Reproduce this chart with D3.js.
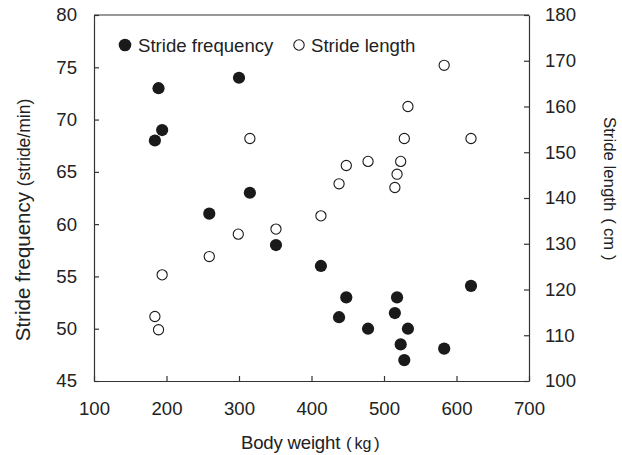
<!DOCTYPE html>
<html><head><meta charset="utf-8">
<script src="https://cdn.jsdelivr.net/npm/d3@7"></script>
<style>body{margin:0;background:#fff}svg{display:block}text{font-family:"Liberation Sans",Arial,sans-serif;fill:#222}</style>
</head><body>
<script>
const bodyWeight = [189,300,194,184,315,259,351,413,448,438,478,518,515,533,523,528,583,620];
const strideFrequency = [73,74,69,68,63,61,58,56,53,51.1,50,53,51.5,50,48.5,47,48.1,54.1];
const strideLengthWeight = [315,413,583,533,528,620,478,448,523,518,438,515,351,299,259,194,184,189];
const strideLength = [153,136.1,169,160,153,153,148,147.1,148,145.2,143.1,142.3,133.2,132.1,127.2,123.2,114.1,111.2];
const xTicks = [100,200,300,400,500,600,700];
const yLeftTicks = [45,50,55,60,65,70,75,80];
const yRightTicks = [100,110,120,130,140,150,160,170,180];

const W=622,H=455;
const m={l:94,r:529,t:15,b:381};
const svg=d3.select("body").append("svg").attr("width",W).attr("height",H);
const x=d3.scaleLinear().domain([100,700]).range([m.l,m.r]);
const yL=d3.scaleLinear().domain([45,80]).range([m.b,m.t]);
const yR=d3.scaleLinear().domain([100,180]).range([m.b,m.t]);
const fs=18.6;

const ax=svg.append("g").attr("transform",`translate(0,${m.b})`)
  .call(d3.axisBottom(x).tickValues(xTicks).tickSizeInner(-5).tickSizeOuter(0).tickPadding(21));
const al=svg.append("g").attr("transform",`translate(${m.l},0)`)
  .call(d3.axisLeft(yL).tickValues(yLeftTicks).tickSizeInner(-5).tickSizeOuter(0).tickPadding(17));
const ar=svg.append("g").attr("transform",`translate(${m.r},0)`)
  .call(d3.axisRight(yR).tickValues(yRightTicks).tickSizeInner(-5).tickSizeOuter(0).tickPadding(16));
[ax,al,ar].forEach(g=>{
  g.selectAll("path").attr("stroke","#333").attr("stroke-width",1.2);
  g.selectAll("line").attr("stroke","#333").attr("stroke-width",1.2);
  g.selectAll("text").attr("font-size",fs).attr("font-family","Liberation Sans, Arial, sans-serif").attr("fill","#222");
});
ax.selectAll("text").attr("dy","0.71em");
svg.append("line").attr("x1",m.l).attr("x2",m.r).attr("y1",m.t).attr("y2",m.t).attr("stroke","#333").attr("stroke-width",1.2);

// points
svg.append("g").selectAll("circle").data(strideLength).join("circle")
  .attr("cx",(d,i)=>x(strideLengthWeight[i])).attr("cy",d=>yR(d)).attr("r",5.1)
  .attr("fill","#fff").attr("stroke","#1a1a1a").attr("stroke-width",1.1);
svg.append("g").selectAll("circle").data(strideFrequency).join("circle")
  .attr("cx",(d,i)=>x(bodyWeight[i])).attr("cy",d=>yL(d)).attr("r",6.1)
  .attr("fill","#1a1a1a");

// legend
svg.append("circle").attr("cx",125).attr("cy",45).attr("r",6.3).attr("fill","#1a1a1a");
svg.append("text").attr("x",138).attr("y",52).attr("font-size",fs).text("Stride frequency");
svg.append("circle").attr("cx",299).attr("cy",45).attr("r",5.2).attr("fill","#fff").attr("stroke","#1a1a1a").attr("stroke-width",1.1);
svg.append("text").attr("x",311).attr("y",52).attr("font-size",fs).text("Stride length");

// axis titles
const xt=svg.append("text").attr("x",241).attr("y",449).attr("font-size",fs).attr("letter-spacing","-0.2");
xt.append("tspan").text("Body weight");
xt.append("tspan").attr("dx",6).attr("font-size",17).text("(");
xt.append("tspan").attr("dx",3).attr("font-size",16).text("kg");
xt.append("tspan").attr("dx",3).attr("font-size",17).text(")");

const lt=svg.append("text").attr("transform","translate(30,220) rotate(-90)").attr("text-anchor","middle").attr("font-size",20.5);
lt.append("tspan").text("Stride frequency ");
lt.append("tspan").attr("font-size",17.5).text("(stride/min)");

const rt=svg.append("text").attr("transform","translate(604,117) rotate(90)").attr("font-size",16.8);
rt.append("tspan").text("Stride length");
rt.append("tspan").attr("dx",7).attr("font-size",17).text("(");
rt.append("tspan").attr("dx",4).attr("font-size",16.5).text("cm");
rt.append("tspan").attr("dx",5).attr("font-size",17).text(")");
</script>
</body></html>
